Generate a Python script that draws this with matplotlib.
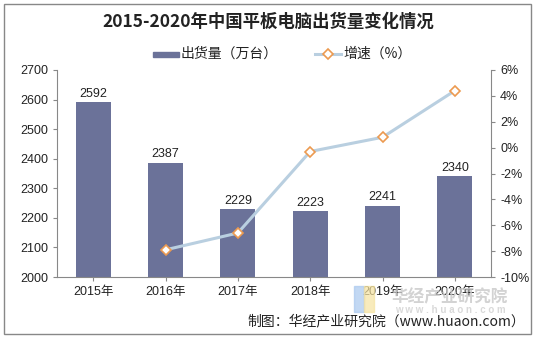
import matplotlib
matplotlib.use('Agg')
import matplotlib.pyplot as plt
from matplotlib.patches import Rectangle

plt.rcParams['font.family'] = ['Liberation Sans', 'Noto Sans CJK SC', 'DejaVu Sans']

years = ['2015年', '2016年', '2017年', '2018年', '2019年', '2020年']
shipments = [2592, 2387, 2229, 2223, 2241, 2340]
growth = [None, -7.9, -6.6, -0.3, 0.8, 4.4]

bar_color = '#6b7299'
line_color = '#b9cfe0'
marker_edge = '#ec9a50'

fig = plt.figure(figsize=(5.36, 3.38), dpi=100)
fig.patches.append(Rectangle((4 / 536, 4 / 338), 527 / 536, 330 / 338, transform=fig.transFigure,
                             fill=False, edgecolor='#888888', linewidth=1))

ax = fig.add_axes([57 / 536, 1 - 277 / 338, 434 / 536, 207 / 338])
x = list(range(len(years)))
bars = ax.bar(x, shipments, width=0.48, color=bar_color, zorder=2)
for xi, v in zip(x, shipments):
    ax.text(xi, v + 8, str(v), ha='center', va='bottom', fontsize=9, color='#222222')
ax.set_ylim(2000, 2700)
ax.set_yticks(range(2000, 2701, 100))
ax.set_xlim(-0.5, 5.5)
ax.set_xticks(x)
ax.set_xticklabels(years)
ax.tick_params(axis='both', labelsize=9, colors='#222222', length=3, width=0.8)
ax.tick_params(axis='y', color='#888888')
ax.tick_params(axis='x', color='#888888')
for s in ['top', 'right']:
    ax.spines[s].set_visible(False)
ax.spines['left'].set_color('#888888')
ax.spines['bottom'].set_color('#888888')

ax2 = ax.twinx()
gx = [xi for xi, g in zip(x, growth) if g is not None]
gy = [g for g in growth if g is not None]
ax2.plot(gx, gy, color=line_color, linewidth=2.2, marker='D', markersize=5.5,
         markerfacecolor='white', markeredgecolor=marker_edge, markeredgewidth=1.2, zorder=3)
ax2.set_ylim(-10, 6)
ax2.set_yticks(range(-10, 7, 2))
ax2.set_yticklabels([f'{v}%' for v in range(-10, 7, 2)])
ax2.tick_params(axis='y', labelsize=9, colors='#222222', length=3, width=0.8, color='#888888')
for s in ['top', 'left', 'bottom']:
    ax2.spines[s].set_visible(False)
ax2.spines['right'].set_color('#888888')

fig.text(0.5, 1 - 22 / 338, '2015-2020年中国平板电脑出货量变化情况', ha='center', va='center',
         fontsize=12.5, fontweight='bold', family=['Noto Sans CJK SC'], color='#222222')

# legend
ly = 1 - 54 / 338
fig.patches.append(Rectangle((153 / 536, ly - 2.5 / 338), 26 / 536, 5 / 338, transform=fig.transFigure,
                             color=bar_color))
fig.text(181 / 536, ly, '出货量（万台）', ha='left', va='center', fontsize=10,
         family=['Noto Sans CJK SC'], color='#222222')
fig.add_artist(plt.Line2D([315 / 536, 341 / 536], [ly, ly], transform=fig.transFigure,
                          color=line_color, linewidth=2.2))
fig.add_artist(plt.Line2D([328 / 536], [ly], transform=fig.transFigure, marker='D', markersize=5,
                          markerfacecolor='white', markeredgecolor=marker_edge, markeredgewidth=1.2))
fig.text(343 / 536, ly, '增速（%）', ha='left', va='center', fontsize=10,
         family=['Noto Sans CJK SC'], color='#222222')

# watermark
fig.text(450 / 536, 1 - 297 / 338, '华经产业研究院', ha='center', va='center', fontsize=12,
         fontweight='bold', family=['Noto Sans CJK SC'], color='#c8c8c8', alpha=0.8)
fig.text(450 / 536, 1 - 310 / 338, 'w w w . h u a o n . c o m', ha='center', va='center', fontsize=7,
         fontweight='bold', color='#d0d0d0', alpha=0.8)
fig.patches.append(Rectangle((354 / 536, 1 - 312 / 338), 10 / 536, 26 / 338, transform=fig.transFigure,
                             color='#a9c8ee', alpha=0.7))
fig.patches.append(Rectangle((364 / 536, 1 - 312 / 338), 10 / 536, 26 / 338, transform=fig.transFigure,
                             color='#f6e3a0', alpha=0.7))

fig.text(525 / 536, 1 - 321 / 338, '制图：华经产业研究院（www.huaon.com）', ha='right', va='center',
         fontsize=10, family=['Noto Sans CJK SC'], color='#222222')

fig.savefig('out.png', dpi=100)
